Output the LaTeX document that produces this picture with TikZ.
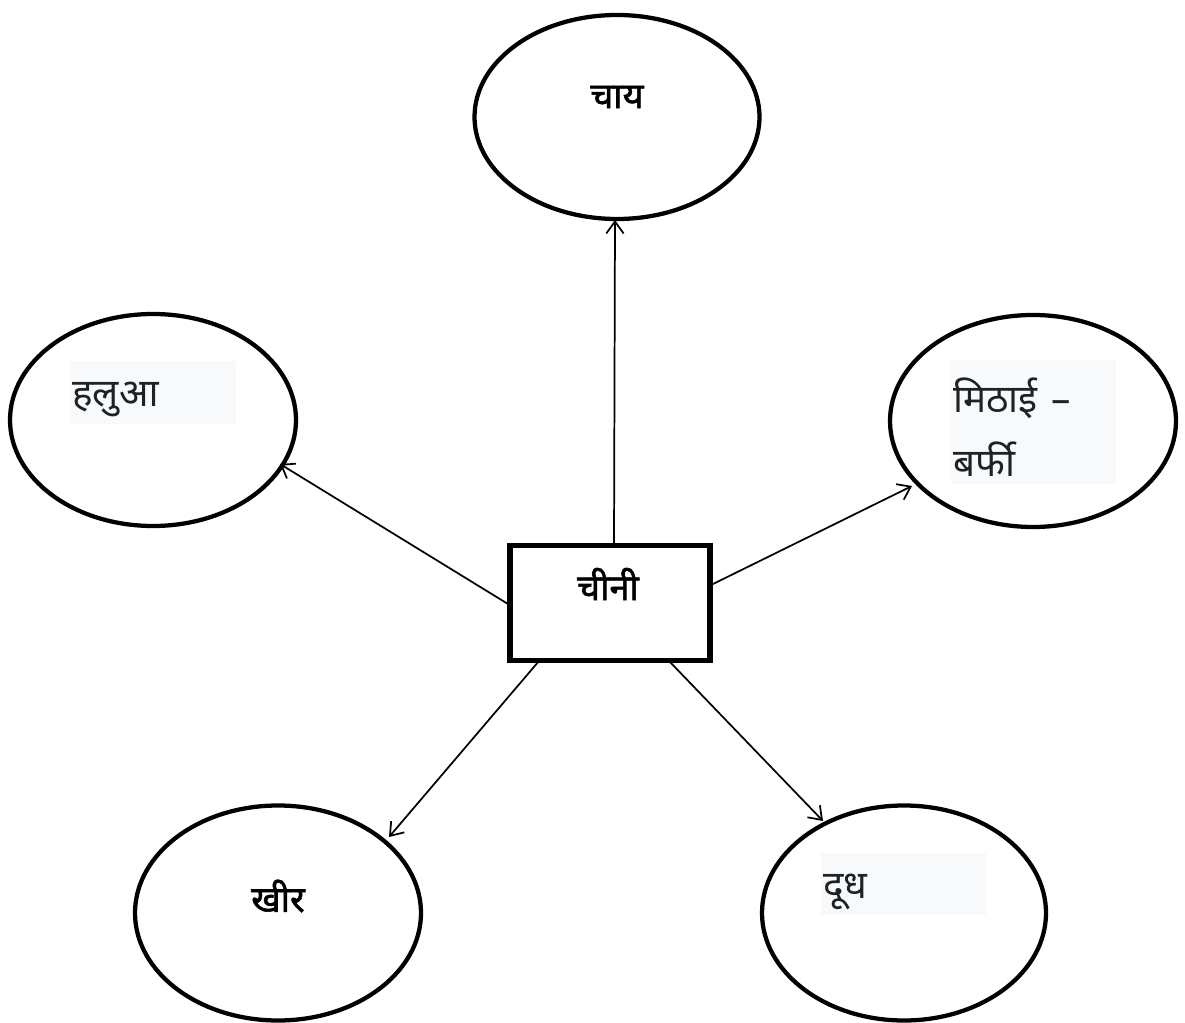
\documentclass[tikz,border=0pt]{standalone}
\usepackage{fontspec}
\usetikzlibrary{arrows.meta,shapes.geometric}
\newfontfamily\deva[Script=Devanagari]{Noto Sans}
\newfontfamily\devab[Script=Devanagari,FakeBold=1.6]{Noto Sans}
\definecolor{boxgray}{HTML}{F8F9FA}
\definecolor{txtgray}{HTML}{202124}
\begin{document}
\begin{tikzpicture}[x=0.75pt,y=-0.75pt,
  oval/.style={draw, line width=3.2pt, ellipse, inner sep=0pt},
  lbl/.style={font=\devab\fontsize{27}{32}\selectfont, inner sep=0pt},
  glbl/.style={text=txtgray, font=\deva\fontsize{29}{40}\selectfont, inner sep=0pt, anchor=west},
  conn/.style={line width=1.3pt, -{Straight Barb[length=9pt,width=13pt]}}]
\useasboundingbox (0,0) rectangle (1185,1023);
% ellipses
\node[oval, minimum width=285*0.75pt, minimum height=204*0.75pt] (chai) at (617,117) {};
\node[oval, minimum width=286*0.75pt, minimum height=212*0.75pt] (halua) at (153,420) {};
\node[oval, minimum width=286*0.75pt, minimum height=212*0.75pt] (mithai) at (1033,421) {};
\node[oval, minimum width=286*0.75pt, minimum height=215*0.75pt] (kheer) at (278,913) {};
\node[oval, minimum width=284*0.75pt, minimum height=215*0.75pt] (doodh) at (904,913) {};
% center rect
\node[draw, line width=3.8pt, rectangle, minimum width=200*0.75pt, minimum height=115*0.75pt, inner sep=0pt] (cheeni) at (610,603) {};
% labels
\node[lbl] (tchai) at (617,97) {चाय};
\node[lbl] (tcheeni) at (608,584) {चीनी};
\node[lbl] (tkheer) at (278,896) {खीर};
\fill[boxgray] (70,361) rectangle (236,424);
\node[glbl] (thalua) at (72,399) {हलुआ};
\fill[boxgray] (951,360) rectangle (1116,484);
\node[glbl] (tmithai1) at (953,398) {मिठाई\hspace{0.35em}–};
\node[glbl] (tmithai2) at (953,459) {बर्फी};
\fill[boxgray] (821,853) rectangle (986,915);
\node[glbl] (tdoodh) at (823,892) {दूध};
% connector coordinates
\coordinate (c1) at (614,545);
\coordinate (c2) at (508,604);
\coordinate (c3) at (711,585);
\coordinate (c4) at (539,661);
\coordinate (c5) at (669,661);
\coordinate (e1) at (615,220);
\coordinate (e2) at (280,464);
\coordinate (e3) at (912,486);
\coordinate (e4) at (389,837);
\coordinate (e5) at (823,821);
\draw[conn] (c1) -- (e1);
\draw[conn] (c2) -- (e2);
\draw[conn] (c3) -- (e3);
\draw[conn] (c4) -- (e4);
\draw[conn] (c5) -- (e5);
\end{tikzpicture}
\end{document}
